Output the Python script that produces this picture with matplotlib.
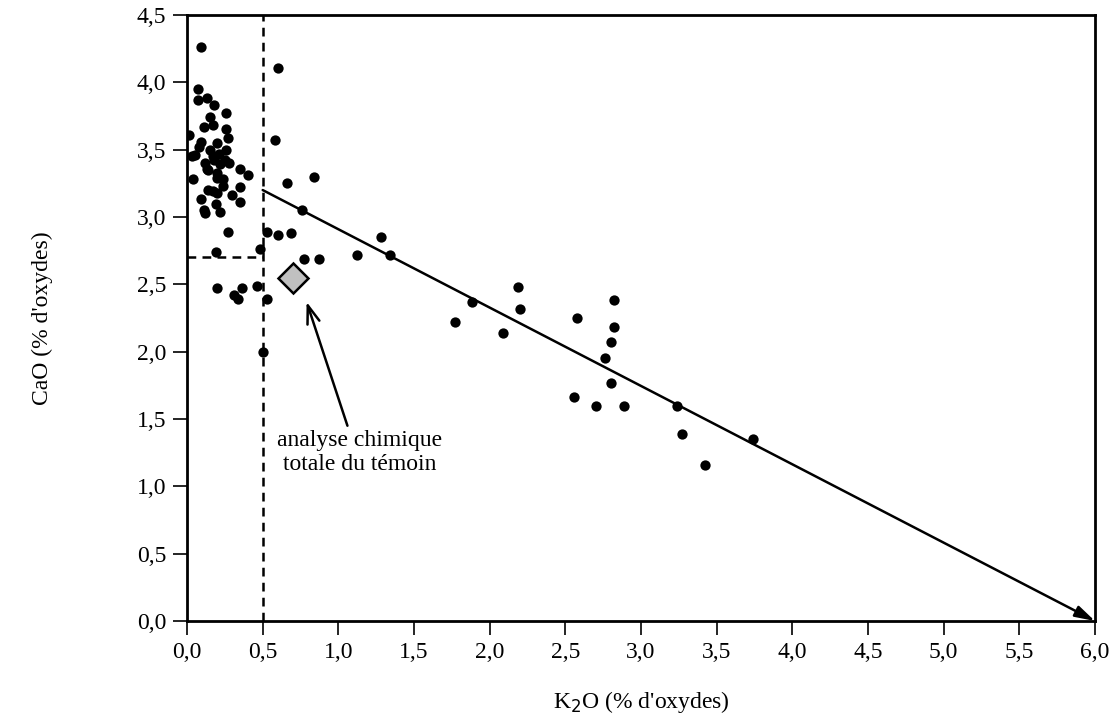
import numpy as np
import matplotlib.pyplot as plt
from matplotlib.ticker import FuncFormatter

plt.rcParams['font.family'] = ['Liberation Serif', 'DejaVu Serif']

# Points K2O / CaO (% d'oxydes)
k2o = [0.09, 0.60, 0.07, 0.07, 0.13, 0.18, 0.26, 0.15, 0.17, 0.11,
       0.01, 0.09, 0.26, 0.27, 0.58, 0.05, 0.12, 0.17, 0.22, 0.26,
       0.28, 0.35, 0.40, 0.04, 0.20, 0.24, 0.66, 0.09, 0.17, 0.20,
       0.30, 0.35, 0.35, 0.19, 0.11, 0.12, 0.22, 0.08, 0.15, 0.25,
       0.14, 0.20, 0.18, 0.14, 0.13, 0.24, 0.03, 0.20, 0.21,
       0.76, 0.27, 0.53, 0.60, 0.69, 0.19, 0.48, 0.77, 0.87, 1.12,
       0.20, 0.31, 0.36, 0.34, 0.46, 0.53, 0.50, 0.84, 1.28, 1.34,
       1.77, 1.88, 2.09, 2.19, 2.20, 2.58, 2.82, 2.82, 2.80, 2.76,
       2.80, 2.56, 2.70, 2.89, 3.24, 3.27, 3.42, 3.74]
cao = [4.26, 4.11, 3.95, 3.87, 3.88, 3.83, 3.77, 3.74, 3.68, 3.67,
       3.61, 3.56, 3.65, 3.59, 3.57, 3.46, 3.40, 3.45, 3.39, 3.50,
       3.40, 3.36, 3.31, 3.28, 3.33, 3.28, 3.25, 3.13, 3.19, 3.18,
       3.16, 3.22, 3.11, 3.10, 3.05, 3.03, 3.04, 3.52, 3.50, 3.42,
       3.35, 3.55, 3.42, 3.20, 3.36, 3.23, 3.45, 3.29, 3.47,
       3.05, 2.89, 2.89, 2.87, 2.88, 2.74, 2.76, 2.69, 2.69, 2.72,
       2.47, 2.42, 2.47, 2.39, 2.49, 2.39, 2.00, 3.30, 2.85, 2.72,
       2.22, 2.37, 2.14, 2.48, 2.32, 2.25, 2.38, 2.18, 2.07, 1.95,
       1.77, 1.66, 1.60, 1.60, 1.60, 1.39, 1.16, 1.35]

# Analyse chimique totale du témoin
temoin_k2o = 0.70
temoin_cao = 2.55

# Droite de tendance et seuils
trend_start = (0.5, 3.2)
trend_end = (6.0, 0.0)
seuil_k2o = 0.5
seuil_cao = 2.7

xticks = np.arange(0, 6.01, 0.5)
yticks = np.arange(0, 4.51, 0.5)

fs = 17

fig = plt.figure(figsize=(11.18, 7.21), dpi=100)
ax = fig.add_axes([0.1673, 0.1387, 0.8121, 0.8405])

ax.scatter(k2o, cao, s=55, color='black', zorder=3, linewidths=0)

# seuils en pointillés
ax.plot([seuil_k2o, seuil_k2o], [0, 4.5], color='black', lw=1.8,
        linestyle=(0, (3.5, 2.5)), zorder=2)
ax.plot([0, seuil_k2o], [seuil_cao, seuil_cao], color='black', lw=1.8,
        linestyle=(0, (3.5, 2.5)), zorder=2)

# droite de tendance avec flèche
ax.annotate('', xy=trend_end, xytext=trend_start,
            arrowprops=dict(arrowstyle='-|>,head_length=1.2,head_width=0.35',
                            color='black', lw=1.8, shrinkA=0, shrinkB=0),
            zorder=2)

# témoin
ax.plot(temoin_k2o, temoin_cao, marker='D', markersize=15,
        markerfacecolor='#c0c0c0', markeredgecolor='black',
        markeredgewidth=1.8, zorder=4)

ax.annotate('', xy=(0.79, 2.37), xytext=(1.06, 1.45),
            arrowprops=dict(arrowstyle='->,head_length=1.3,head_width=0.45',
                            color='black', lw=1.8, shrinkA=0, shrinkB=0))
ax.text(1.14, 1.25, 'analyse chimique\ntotale du témoin', ha='center',
        va='center', fontsize=fs, linespacing=1.2)

ax.set_xlim(0, 6)
ax.set_ylim(0, 4.5)
ax.set_xticks(xticks)
ax.set_yticks(yticks)
fmt = FuncFormatter(lambda v, p: f'{v:.1f}'.replace('.', ','))
ax.xaxis.set_major_formatter(fmt)
ax.yaxis.set_major_formatter(fmt)
ax.tick_params(direction='out', length=10, width=1.2, labelsize=fs, pad=5)
for sp in ax.spines.values():
    sp.set_linewidth(2)

ax.set_xlabel("K$_2$O (% d'oxydes)", fontsize=fs, labelpad=19)
ax.set_ylabel("CaO (% d'oxydes)", fontsize=fs, labelpad=60)

fig.savefig('out.png', dpi=100)
